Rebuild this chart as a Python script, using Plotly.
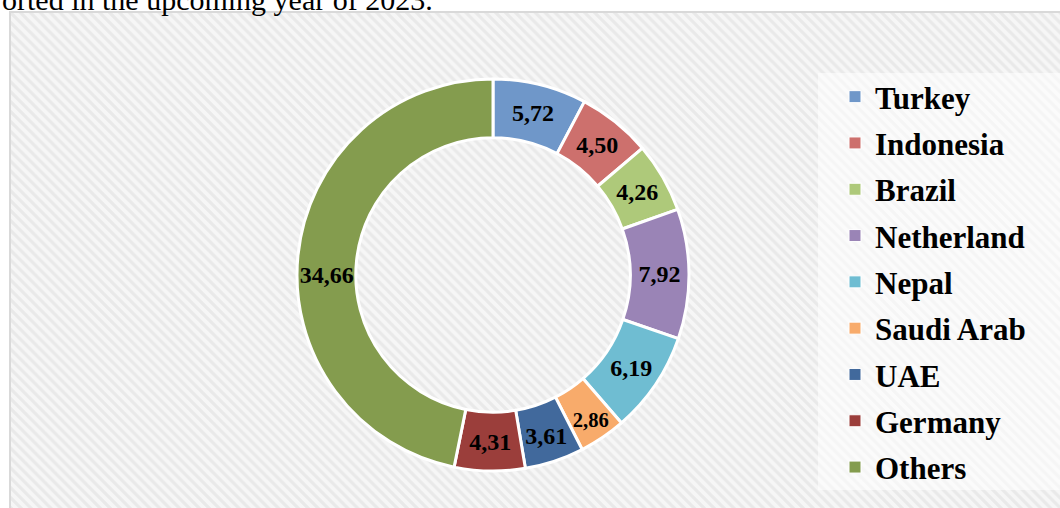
import plotly.graph_objects as go

countries = ["Turkey", "Indonesia", "Brazil", "Netherland", "Nepal",
             "Saudi Arab", "UAE", "Germany", "Others"]
values = [5.72, 4.50, 4.26, 7.92, 6.19, 2.86, 3.61, 4.31, 34.66]
colors = ["#6f97c9", "#cd706d", "#aec97a", "#9a84b6", "#6fbdd2",
          "#f8ab6b", "#41699c", "#9b3e3b", "#849c4e"]
value_labels = [f"{v:.2f}".replace(".", ",") for v in values]
caption = "orted in the upcoming year of 2023."

W, H = 1060, 508
fig = go.Figure()

# hatched chart-area background
fig.add_trace(go.Scatter(
    x=[0, 1, 1, 0, 0], y=[0, 0, 1, 1, 0], mode="lines",
    line=dict(width=0), fill="toself",
    fillpattern=dict(shape="\\", fgcolor="#dcdcdc", bgcolor="#f6f6f6",
                     size=7, solidity=0.45),
    hoverinfo="skip", showlegend=False))

fig.add_trace(go.Pie(
    labels=countries, values=values, text=value_labels,
    textinfo="text", texttemplate="%{text}",
    textposition="inside", insidetextorientation="horizontal",
    sort=False, direction="clockwise", rotation=0, hole=0.70,
    marker=dict(colors=colors, line=dict(color="white", width=3)),
    textfont=dict(family="Liberation Serif", size=24, color="black", weight="bold"),
    domain=dict(x=[297 / W, 689 / W], y=[(508 - 471) / H, (508 - 79) / H]),
    showlegend=False,
))

# legend entries (one per country, same colours as the slices)
for name, col in zip(countries, colors):
    fig.add_trace(go.Scatter(
        x=[None], y=[None], mode="markers", name=name, legendgroup=name,
        marker=dict(symbol="square", size=12, color=col,
                    line=dict(color="white", width=1)),
        showlegend=True, hoverinfo="skip"))

fig.update_layout(
    width=W, height=H,
    margin=dict(l=0, r=0, t=0, b=0),
    paper_bgcolor="white", plot_bgcolor="white",
    xaxis=dict(domain=[10 / W, 1], range=[0, 1], visible=False, fixedrange=True),
    yaxis=dict(domain=[0, 1 - 12 / H], range=[0, 1], visible=False, fixedrange=True),
    showlegend=True,
    legend=dict(
        x=835 / W, xanchor="left", y=1 - 70 / H, yanchor="top",
        bgcolor="rgba(255,255,255,0)",
        font=dict(family="Liberation Serif", size=31, color="black", weight="bold"),
        traceorder="grouped", tracegroupgap=3,
    ),
    shapes=[
        dict(type="rect", xref="paper", yref="paper", layer="above",
             x0=818 / W, x1=1.0, y0=1 - 490 / H, y1=1 - 73 / H,
             line=dict(width=0), fillcolor="rgba(255,255,255,0.55)"),
        dict(type="rect", xref="paper", yref="paper",
             x0=10 / W, x1=1.02, y0=-0.02, y1=1 - 12 / H,
             line=dict(color="#d9d9d9", width=2), fillcolor="rgba(0,0,0,0)"),
    ],
    annotations=[dict(text=caption, xref="paper", yref="paper",
                      x=0, y=1 - 17.5 / H, xanchor="left", yanchor="bottom",
                      showarrow=False,
                      font=dict(family="Liberation Serif", size=30, color="black"))],
)

fig.write_html("out.html", config={"displayModeBar": False},
               post_script="document.body.style.margin='0';")
